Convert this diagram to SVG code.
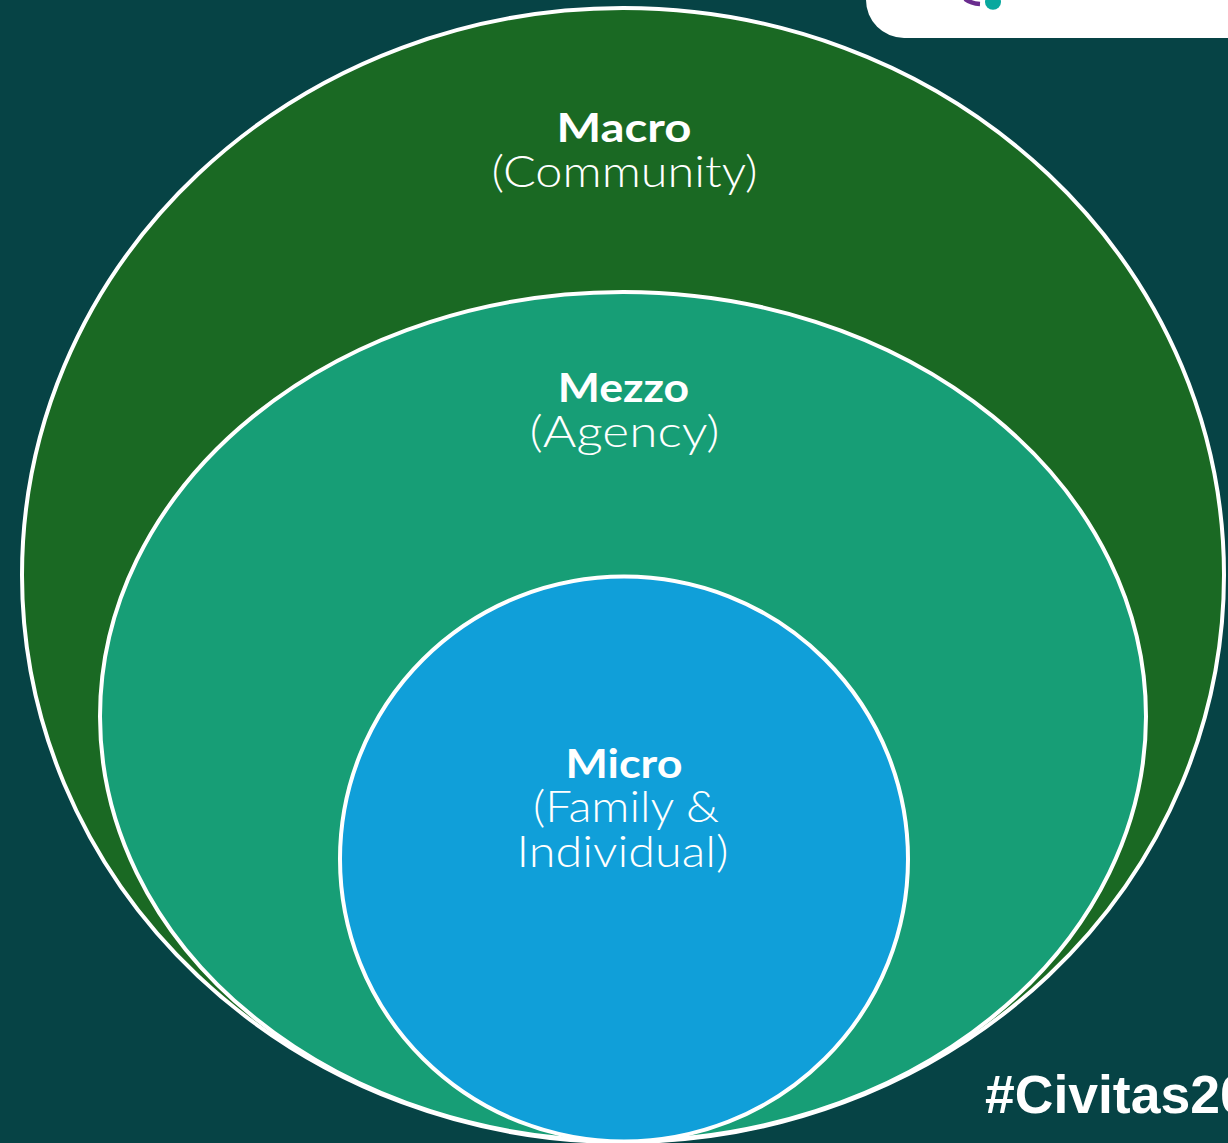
<svg xmlns="http://www.w3.org/2000/svg" width="1228" height="1143" viewBox="0 0 1228 1143">
<style>
.ring{stroke:#fff;stroke-width:4}
.t{font-family:"Lato","Liberation Sans",sans-serif;fill:#fff;text-anchor:middle}
.h{font-size:41px;font-weight:700}
.s{font-size:43px;font-weight:300}
</style>
<rect id="background" width="1228" height="1143" fill="#064345"/>
<g id="logo-panel">
<rect x="866" y="-60" width="420" height="98" rx="38" fill="#fff"/>
<path d="M965 -1Q971 3.500 980 4" fill="none" stroke="#6a2c8e" stroke-width="4.500"/>
<ellipse cx="993" cy="2" rx="8" ry="7.800" fill="#08a89e"/>
</g>
<g id="macro"><ellipse class="ring" cx="623" cy="575" rx="601" ry="567" fill="#1a6923"/>
<text class="t h" x="624" y="142" textLength="135" lengthAdjust="spacingAndGlyphs">Macro</text>
<text class="t s" x="624.500" y="187" textLength="266" lengthAdjust="spacingAndGlyphs">(Community)</text></g>
<g id="mezzo"><ellipse class="ring" cx="623" cy="716.500" rx="523" ry="424.500" fill="#179e76"/>
<text class="t h" x="623.500" y="402" textLength="131.500" lengthAdjust="spacingAndGlyphs">Mezzo</text>
<text class="t s" x="624.500" y="447" textLength="190" lengthAdjust="spacingAndGlyphs">(Agency)</text></g>
<g id="micro"><ellipse class="ring" cx="624" cy="859" rx="284" ry="282.500" fill="#109fd9"/>
<text class="t h" x="624" y="777.500" textLength="117" lengthAdjust="spacingAndGlyphs">Micro</text>
<text class="t s" x="626" y="822" textLength="186" lengthAdjust="spacingAndGlyphs">(Family &amp;</text>
<text class="t s" x="622.500" y="867" textLength="212" lengthAdjust="spacingAndGlyphs">Individual)</text></g>
<text id="hashtag" x="985" y="1113" font-family="Liberation Sans,sans-serif" font-weight="700" font-size="53.500" fill="#fff">#Civitas20</text>
<g id="connectors"/>
</svg>
